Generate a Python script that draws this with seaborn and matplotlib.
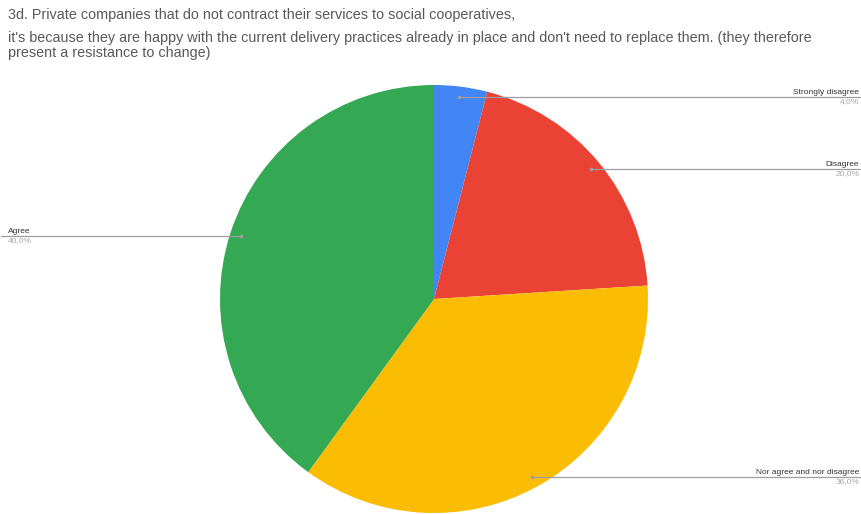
import numpy as np
import matplotlib
matplotlib.use("Agg")
import matplotlib.pyplot as plt
import seaborn as sns

categories = ["Strongly disagree", "Disagree", "Nor agree and nor disagree", "Agree"]
shares = [4.0, 20.0, 36.0, 40.0]
palette = ["#4285F4", "#EA4335", "#FBBC04", "#34A853"]
title_lines = [
    "3d. Private companies that do not contract their services to social cooperatives,",
    "it's because they are happy with the current delivery practices already in place and don't need to replace them. (they therefore",
    "present a resistance to change)",
]
title_baselines = [19, 42, 57]

sns.set_style("white")
plt.rcParams["font.family"] = ["Liberation Sans", "DejaVu Sans"]

W, H = 861, 514
fig = plt.figure(figsize=(W / 100, H / 100), dpi=100)
ax = fig.add_axes([0, 0, 1, 1])

cx, cy, R = 434, H - 299, 214
wedges, _ = ax.pie(shares, colors=palette, startangle=90, counterclock=False,
                   center=(cx, cy), radius=R,
                   wedgeprops=dict(edgecolor="none", linewidth=0, antialiased=True))
ax.set_xlim(0, W)
ax.set_ylim(0, H)
ax.set_aspect("equal")
ax.axis("off")

# Leader lines from a point inside each wedge out to the figure edge
total = sum(shares)
cum = 0.0
for name, val in zip(categories, shares):
    mid = (cum + val / 2) / total * 2 * np.pi
    cum += val
    px = cx + 0.95 * R * np.sin(mid)
    py = cy + 0.95 * R * np.cos(mid)
    pct = f"{val:.1f}%".replace(".", ",")
    if px >= cx:
        ax.plot([px, W - 1], [py, py], color="#9e9e9e", lw=0.9, zorder=3)
        tx, ha = W - 2, "right"
    else:
        ax.plot([1, px], [py, py], color="#9e9e9e", lw=0.9, zorder=3)
        tx, ha = 8, "left"
    ax.plot(px, py, "o", ms=1.6, color="#9e9e9e", zorder=4)
    ax.text(tx, py + 1.5, name, ha=ha, va="bottom", fontsize=6, color="#333333")
    ax.text(tx, py - 1, pct, ha=ha, va="top", fontsize=6, color="#a8a8a8")

for line, base in zip(title_lines, title_baselines):
    fig.text(8 / W, 1 - base / H, line, ha="left", va="baseline",
             fontsize=10.4, color="#595959")

fig.savefig("out.png", dpi=100, facecolor="white")
